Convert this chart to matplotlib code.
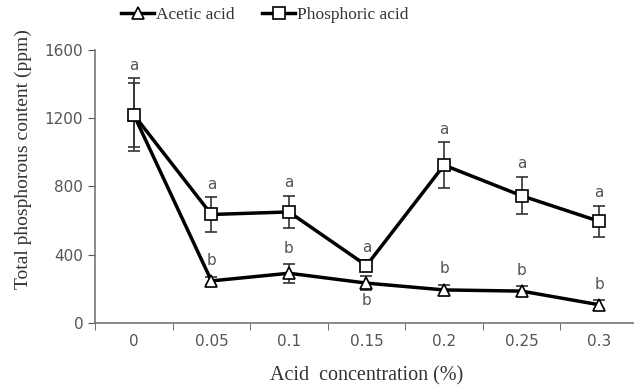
import matplotlib
matplotlib.use('Agg')
import matplotlib.pyplot as plt
import numpy as np

concentrations = ['0', '0.05', '0.1', '0.15', '0.2', '0.25', '0.3']
acetic_mean = [1220, 245, 290, 232, 192, 185, 105]
acetic_err = [190, 25, 55, 40, 30, 30, 25]
phosphoric_mean = [1220, 635, 650, 335, 925, 745, 595]
phosphoric_err = [215, 100, 95, 30, 135, 110, 90]
acetic_letters = ['', 'b', 'b', 'b', 'b', 'b', 'b']
phosphoric_letters = ['a', 'a', 'a', 'a', 'a', 'a', 'a']

serif = ['Liberation Serif', 'DejaVu Serif']
gray = '#555555'

fig = plt.figure(figsize=(6.34, 3.92), dpi=100)
ax = fig.add_axes([0.150, 0.177, 0.85, 0.695])

x = np.arange(len(concentrations))

ax.errorbar(x, acetic_mean, yerr=acetic_err, fmt='none', ecolor='#333333',
            elinewidth=1.2, capsize=4, capthick=1.2, zorder=2)
ax.errorbar(x, phosphoric_mean, yerr=phosphoric_err, fmt='none', ecolor='#333333',
            elinewidth=1.2, capsize=4, capthick=1.2, zorder=2)
ax.plot(x, acetic_mean, color='black', lw=2.5, marker='^', markersize=9,
        markerfacecolor='white', markeredgecolor='black', markeredgewidth=1.2,
        label='Acetic acid', zorder=3)
ax.plot(x, phosphoric_mean, color='black', lw=2.5, marker='s', markersize=9,
        markerfacecolor='white', markeredgecolor='black', markeredgewidth=1.2,
        label='Phosphoric acid', zorder=3)

# significance letters
for i in range(len(x)):
    if phosphoric_letters[i]:
        ax.annotate(phosphoric_letters[i], (x[i], phosphoric_mean[i] + phosphoric_err[i]),
                    xytext=(0, 4), textcoords='offset points', ha='center', va='bottom',
                    fontsize=11, color=gray)
    if acetic_letters[i]:
        if i == 3:
            ax.annotate(acetic_letters[i], (x[i], acetic_mean[i] - acetic_err[i]),
                        xytext=(0, -2), textcoords='offset points', ha='center', va='top',
                        fontsize=11, color=gray)
        else:
            ax.annotate(acetic_letters[i], (x[i], acetic_mean[i] + acetic_err[i]),
                        xytext=(0, 6), textcoords='offset points', ha='center', va='bottom',
                        fontsize=11, color=gray)

ax.set_xlim(-0.5, 6.45)
ax.set_ylim(0, 1600)
ax.set_yticks([0, 400, 800, 1200, 1600])
ax.set_xticks(x)
ax.set_xticklabels(concentrations)
ax.set_xticks(np.arange(-0.5, 6.5, 1), minor=True)
ax.tick_params(axis='x', which='major', length=0, pad=8, labelsize=11, labelcolor=gray)
ax.tick_params(axis='x', which='minor', length=5, direction='out', color=gray)
ax.tick_params(axis='y', length=5, direction='out', color=gray, labelsize=11, labelcolor=gray)

for s in ['top', 'right']:
    ax.spines[s].set_visible(False)
for s in ['left', 'bottom']:
    ax.spines[s].set_color('#777777')
    ax.spines[s].set_linewidth(1.2)

ax.set_ylabel('Total phosphorous content (ppm)', family=serif, fontsize=14, color='#333333')
ax.yaxis.set_label_coords(-0.118, 0.60)
ax.set_xlabel('Acid  concentration (%)', family=serif, fontsize=14.5, color='#333333')
ax.xaxis.set_label_coords(0.503, -0.16)

leg = fig.legend(loc='center', bbox_to_anchor=(265 / 634, 1 - 15 / 392), ncol=2, frameon=False,
                 prop={'family': serif, 'size': 12.5}, handlelength=1.9, handletextpad=0.1,
                 columnspacing=1.6, borderpad=0)
for t in leg.get_texts():
    t.set_color('#333333')

fig.savefig('out.png', dpi=100)
